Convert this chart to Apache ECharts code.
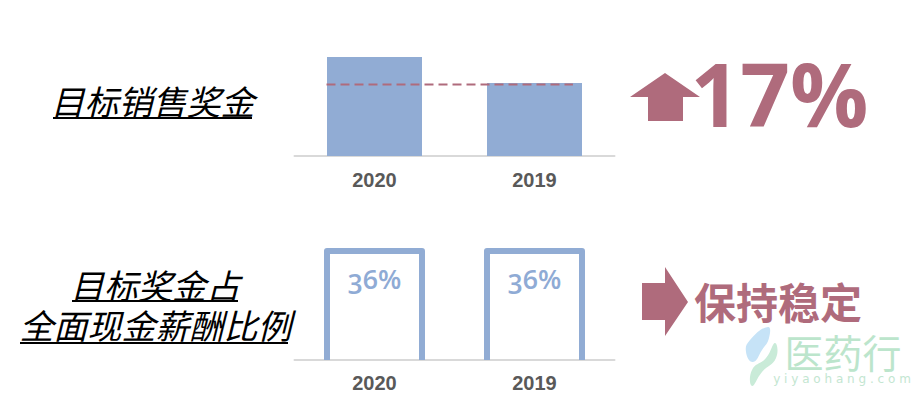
<!DOCTYPE html>
<html>
<head>
<meta charset="utf-8">
<script src="https://cdn.jsdelivr.net/npm/echarts@6/dist/echarts.min.js"></script>
<style>
html,body{margin:0;padding:0;background:#fff;}
#chart{width:918px;height:397px;}
#chart text[fill="#8fabd5" i]{font-variant-numeric: oldstyle-nums !important; font-feature-settings: "onum" 1 !important;}
</style>
</head>
<body>
<div id="chart"></div>
<script>
// ---- data ----
const years = ['2020', '2019'];
const bonusValues = [117, 100];          // target sales bonus (2019 = 100 index)
const bonusReference = 99;               // dashed reference level (2019 level)
const shareValues = [36, 36];            // target bonus share of total cash pay (%)
const shareLabels = ['36%', '36%'];
const growthText = '17%';
const stableText = '保持稳定';
const titleTop = '目标销售奖金';
const titleBottom1 = '目标奖金占';
const titleBottom2 = '全面现金薪酬比例';

const BLUE = '#91ACD4';
const LABEL_BLUE = '#8FABD5';
const MAUVE = '#AF6B7C';
const GRAY_AXIS = '#D9D9D9';
const LABEL = '#595959';

const chart = echarts.init(document.getElementById('chart'), null, {renderer: 'svg'});

const catAxisCommon = {
  type: 'category',
  axisLine: {show: true, onZero: false, lineStyle: {color: GRAY_AXIS, width: 2}},
  axisTick: {show: false},
  splitLine: {show: false}
};

const titleStyle = {fontSize: 34, lineHeight: 32, fontStyle: 'italic', fontFamily: 'Noto Sans CJK SC',
  fill: '#000', align: 'center', verticalAlign: 'middle'};

const option = {
  animation: false,
  backgroundColor: '#ffffff',
  grid: [
    {left: 294.5, width: 320, top: 57, height: 99},
    {left: 294.5, width: 320, top: 251, height: 109}
  ],
  xAxis: [
    Object.assign({}, catAxisCommon, {gridIndex: 0, data: years,
      axisLabel: {margin: 14, fontSize: 20, fontWeight: 'bold', color: LABEL, fontFamily: 'Liberation Sans'}}),
    {type: 'value', gridIndex: 0, min: 0, max: 2, show: false},
    Object.assign({}, catAxisCommon, {gridIndex: 1, data: years,
      axisLabel: {margin: 13, fontSize: 20, fontWeight: 'bold', color: LABEL, fontFamily: 'Liberation Sans'}})
  ],
  yAxis: [
    {type: 'value', gridIndex: 0, min: 52, max: 117, show: false},
    {type: 'value', gridIndex: 1, min: 0, max: 36, show: false}
  ],
  series: [
    {
      type: 'bar', xAxisIndex: 0, yAxisIndex: 0, data: bonusValues,
      barWidth: 95, itemStyle: {color: BLUE}, z: 2
    },
    {
      type: 'line', xAxisIndex: 1, yAxisIndex: 0,
      data: [[0.2, bonusReference], [1.74, bonusReference]],
      symbol: 'none', lineStyle: {color: MAUVE, width: 2, type: [9, 5]}, z: 3
    },
    {
      type: 'custom', xAxisIndex: 2, yAxisIndex: 1,
      data: shareValues.map((v, i) => [i, v]),
      renderItem: function (params, api) {
        const top = api.coord([api.value(0), api.value(1)]);
        const base = api.coord([api.value(0), 0]);
        const half = 47.5;
        return {
          type: 'group',
          children: [
            {
              type: 'polyline',
              shape: {points: [[top[0] - half, base[1]], [top[0] - half, top[1]], [top[0] + half, top[1]], [top[0] + half, base[1]]]},
              style: {stroke: BLUE, lineWidth: 6, fill: null, lineJoin: 'round'}
            },
            {
              type: 'text',
              x: top[0], y: top[1] + 27,
              style: {text: shareLabels[params.dataIndex], fill: LABEL_BLUE, fontSize: 27, fontWeight: 600,
                fontFamily: 'Open Sans', align: 'center', verticalAlign: 'middle'}
            }
          ]
        };
      }
    }
  ],
  graphic: [
    // left titles
    {type: 'text', x: 152.5, y: 100, style: Object.assign({text: titleTop}, titleStyle)},
    {type: 'line', shape: {x1: 53, y1: 118, x2: 252, y2: 118}, style: {stroke: '#000', lineWidth: 2}},
    {type: 'text', x: 155, y: 284, style: Object.assign({text: titleBottom1}, titleStyle)},
    {type: 'line', shape: {x1: 72, y1: 301, x2: 238, y2: 301}, style: {stroke: '#000', lineWidth: 2}},
    {type: 'text', x: 155.5, y: 324, style: Object.assign({text: titleBottom2}, titleStyle)},
    {type: 'line', shape: {x1: 20, y1: 343, x2: 288, y2: 343}, style: {stroke: '#000', lineWidth: 2}},
    // up arrow + 17%
    {type: 'polygon', shape: {points: [[630, 97], [665, 73], [700, 97], [683, 97], [683, 121], [648, 121], [648, 97]]},
      style: {fill: MAUVE}},
    {type: 'text', x: 779.5, y: 93, style: {text: growthText, fontSize: 87, lineHeight: 70, fontWeight: 'bold',
      fontFamily: 'Open Sans', fill: MAUVE, align: 'center', verticalAlign: 'middle'}},
    // right arrow + 保持稳定
    {type: 'polygon', shape: {points: [[642, 283], [665, 283], [665, 267], [688, 302], [665, 336], [665, 320], [642, 320]]},
      style: {fill: MAUVE}},
    {type: 'text', x: 778, y: 300, style: {text: stableText, fontSize: 42, lineHeight: 40, fontWeight: 'bold',
      fontFamily: 'Noto Sans CJK SC', fill: MAUVE, align: 'center', verticalAlign: 'middle'}},
    // watermark logo
    {type: 'polygon', shape: {smooth: 0.5, points: [[768, 327], [750, 340], [746, 352], [753, 362], [762, 350], [769, 338]]},
      style: {fill: '#C6E3F7'}},
    {type: 'polygon', shape: {smooth: 0.5, points: [[775, 343], [766, 358], [752, 370], [752, 386], [762, 372], [776, 358]]},
      style: {fill: '#C9EBD8'}},
    {type: 'text', x: 843, y: 351, style: {text: '医药行', fontSize: 39, lineHeight: 32, fontFamily: 'Noto Sans CJK SC',
      fill: '#BCE5CC', align: 'center', verticalAlign: 'middle'}},
    {type: 'text', x: 842, y: 379, style: {text: 'y i y a o h a n g . c o m', fontSize: 12, lineHeight: 11, fontFamily: 'DejaVu Sans',
      fill: '#C3E6D1', align: 'center', verticalAlign: 'middle'}}
  ]
};
chart.setOption(option);
</script>
</body>
</html>
